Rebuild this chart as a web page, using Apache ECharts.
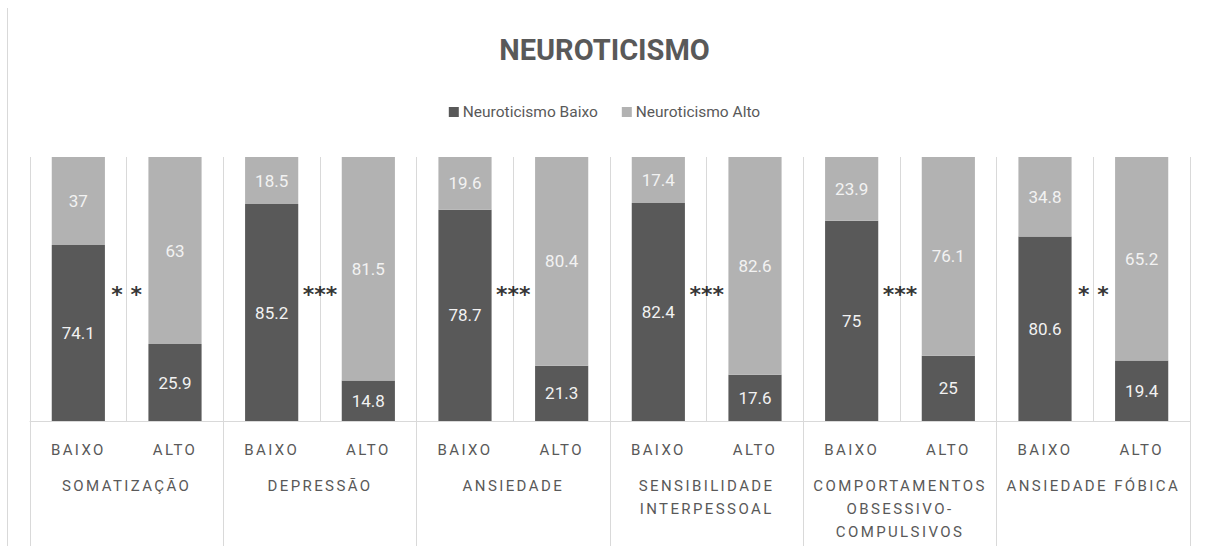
<!DOCTYPE html>
<html>
<head>
<meta charset="utf-8">
<script src="https://cdn.jsdelivr.net/npm/echarts@6/dist/echarts.min.js"></script>
<style>
  html, body { margin: 0; padding: 0; background: #fff; }
  #chart { width: 1209px; height: 546px; }
  #frame { position: absolute; left: 7px; top: 8px; width: 0; height: 538px; border-left: 1px solid #d9d9d9; }
  /* spaced caps on the axis labels, like the original */
  #chart text[style*="spaced"] { letter-spacing: 2.4px; }
</style>
</head>
<body>
<div id="frame"></div>
<div id="chart"></div>
<script>
// dimensions (groups) and the two levels inside each group
const groups = ['SOMATIZAÇÃO', 'DEPRESSÃO', 'ANSIEDADE', 'SENSIBILIDADE\nINTERPESSOAL',
  'COMPORTAMENTOS\nOBSESSIVO-\nCOMPULSIVOS', 'ANSIEDADE FÓBICA'];
const levels = ['BAIXO', 'ALTO'];

// percentages, one per bar (BAIXO, ALTO for each group)
const neuroBaixo = [74.1, 25.9, 85.2, 14.8, 78.7, 21.3, 82.4, 17.6, 75, 25, 80.6, 19.4];
const neuroAlto = [37, 63, 18.5, 81.5, 19.6, 80.4, 17.4, 82.6, 23.9, 76.1, 34.8, 65.2];

// significance marks between BAIXO and ALTO of each group
const signif = ['* *', '***', '***', '***', '***', '* *'];

const DARK = '#595959';
const LIGHT = '#b2b2b2';
const TXT = '#595959';
const FONT = 'Roboto, sans-serif';
const SPACED = 'Roboto, spaced';

// category list for the bars
const cats = [];
groups.forEach(() => levels.forEach(l => cats.push(l)));

// 100% stacked: share of each part inside its bar
const pct = (a, b) => a.map((v, i) => v / (v + b[i]) * 100);
const baixoPct = pct(neuroBaixo, neuroAlto);
const altoPct = pct(neuroAlto, neuroBaixo);

const chart = echarts.init(document.getElementById('chart'), null, { renderer: 'svg' });

const barLabel = (src) => ({
  show: true,
  position: 'inside',
  color: '#f2f2f2',
  fontSize: 17,
  fontFamily: FONT,
  formatter: p => String(src[p.dataIndex])
});

const option = {
  animation: false,
  title: {
    text: 'NEUROTICISMO',
    left: 'center',
    top: 30,
    textStyle: { color: TXT, fontSize: 29, fontWeight: 'bold', fontFamily: FONT }
  },
  legend: {
    data: ['Neuroticismo Baixo', 'Neuroticismo Alto'],
    top: 99,
    left: 'center',
    icon: 'rect',
    itemWidth: 10,
    itemHeight: 10,
    itemGap: 24,
    textStyle: { color: TXT, fontSize: 15.5, fontFamily: FONT, padding: [0, 0, 0, -1] }
  },
  grid: { left: 30, right: 19, top: 157, bottom: 125, containLabel: false },
  xAxis: [
    {
      type: 'category',
      data: cats,
      axisLine: { lineStyle: { color: '#d9d9d9' } },
      axisTick: { show: false },
      splitLine: { show: true, interval: 0, lineStyle: { color: '#d9d9d9' } },
      axisLabel: { interval: 0, margin: 21, color: TXT, fontSize: 15, fontFamily: SPACED }
    },
    {
      type: 'category',
      data: groups,
      position: 'bottom',
      axisLine: { show: false },
      axisTick: { show: true, interval: 0, length: 125, lineStyle: { color: '#d9d9d9' } },
      axisLabel: { interval: 0, margin: 53, lineHeight: 23, color: TXT, fontSize: 15, fontFamily: SPACED }
    },
    { type: 'value', min: 0, max: cats.length, show: false }
  ],
  yAxis: { type: 'value', min: 0, max: 100, show: false, splitLine: { show: false } },
  series: [
    {
      name: 'Neuroticismo Baixo',
      type: 'bar',
      stack: 'total',
      barWidth: '55%',
      itemStyle: { color: DARK },
      label: barLabel(neuroBaixo),
      data: baixoPct
    },
    {
      name: 'Neuroticismo Alto',
      type: 'bar',
      stack: 'total',
      itemStyle: { color: LIGHT },
      label: barLabel(neuroAlto),
      data: altoPct
    },
    {
      type: 'scatter',
      xAxisIndex: 2,
      symbolSize: 1,
      itemStyle: { color: 'transparent' },
      label: {
        show: true,
        position: 'inside',
        color: '#000',
        fontSize: 22,
        fontWeight: 'bold',
        fontFamily: 'DejaVu Sans',
        formatter: p => signif[p.dataIndex]
      },
      data: signif.map((s, i) => [i * 2 + 1, 48])
    }
  ]
};

chart.setOption(option);
</script>
</body>
</html>
